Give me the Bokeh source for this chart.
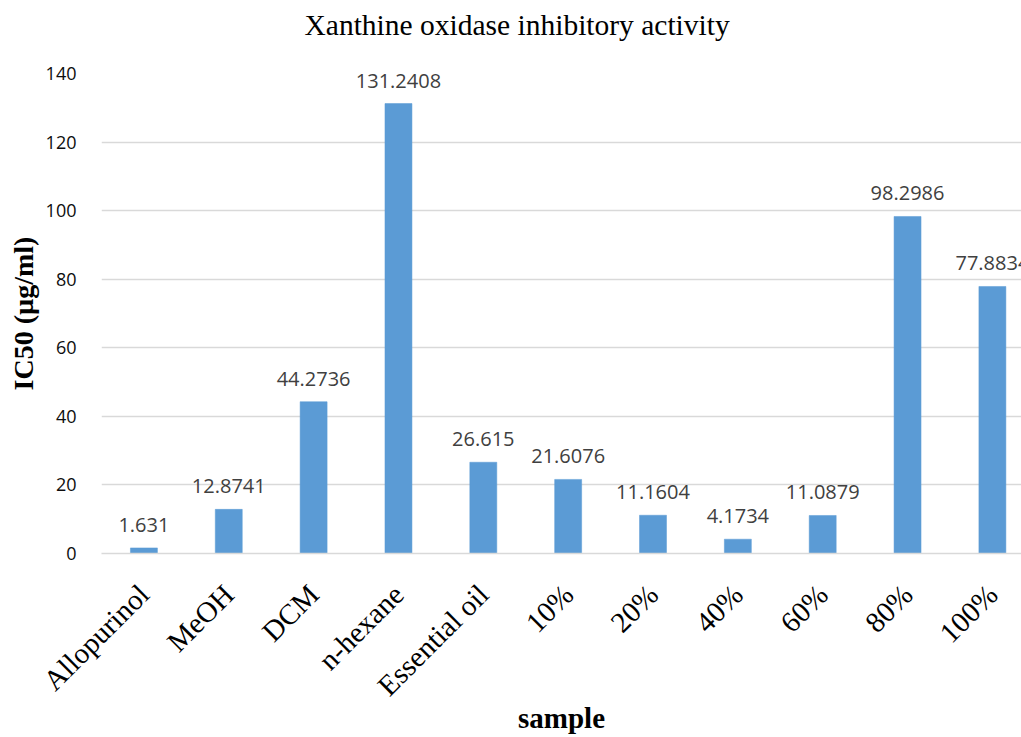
import math

from bokeh.core.properties import value
from bokeh.embed import file_html
from bokeh.models import ColumnDataSource, FixedTicker, LabelSet, Range1d, Title
from bokeh.plotting import figure
from bokeh.resources import INLINE

# Samples and their IC50 values (µg/ml)
samples = ["Allopurinol", "MeOH", "DCM", "n-hexane", "Essential oil",
           "10%", "20%", "40%", "60%", "80%", "100%"]
ic50 = [1.631, 12.8741, 44.2736, 131.2408, 26.615, 21.6076,
        11.1604, 4.1734, 11.0879, 98.2986, 77.8834]
y_ticks = [0, 20, 40, 60, 80, 100, 120, 140]

positions = list(range(len(samples)))
source = ColumnDataSource(data=dict(
    x=positions,
    ic50=ic50,
    label=[str(v) for v in ic50],
))

SERIF = "Liberation Serif"
SANS = "Open Sans"
GRID = "#d9d9d9"
BAR = "#5b9bd5"

p = figure(
    width=1021, height=737,
    x_range=Range1d(-0.5, 10.343),
    y_range=Range1d(0, 140),
    output_backend="svg",
    toolbar_location=None,
    min_border_left=101, min_border_right=0,
    min_border_top=73, min_border_bottom=184,
)
p.outline_line_color = None
p.background_fill_color = "white"
p.border_fill_color = "white"

p.title = Title(
    text="Xanthine oxidase inhibitory activity",
    align="left", offset=203, standoff=10,
    text_font=SERIF, text_font_size="29.5px", text_font_style="normal",
    text_color="#000000",
)
# blank panel between the title and the plot area
p.add_layout(Title(text=" ", text_font_size="14px", standoff=10), "above")

p.vbar(x="x", top="ic50", width=0.318, source=source,
       fill_color=BAR, line_color=BAR, line_width=0.5)

p.add_layout(LabelSet(
    x="x", y="ic50", text="label", source=source,
    y_offset=16, text_align="center", text_baseline="alphabetic",
    text_font=value(SANS), text_font_size=value("20px"), text_color="#404040",
))

# x axis: category names, rotated
xa = p.xaxis[0]
xa.ticker = FixedTicker(ticks=positions)
xa.major_label_overrides = {i: s for i, s in enumerate(samples)}
xa.major_label_orientation = math.pi / 4
xa.major_label_text_font = SERIF
xa.major_label_text_font_size = "29px"
xa.major_label_text_color = "#000000"
xa.major_label_standoff = 30
xa.axis_line_color = GRID
xa.axis_line_width = 1.5
xa.major_tick_line_color = None
xa.minor_tick_line_color = None
xa.axis_label = "sample"
xa.axis_label_text_font = SERIF
xa.axis_label_text_font_size = "29px"
xa.axis_label_text_font_style = "bold"
xa.axis_label_text_color = "#000000"
xa.axis_label_standoff = -14

# y axis
ya = p.yaxis[0]
ya.ticker = FixedTicker(ticks=y_ticks)
ya.axis_line_color = None
ya.major_tick_line_color = None
ya.minor_tick_line_color = None
ya.major_label_text_font = SANS
ya.major_label_text_font_size = "18px"
ya.major_label_text_color = "#0d0d0d"
ya.major_label_standoff = 19
ya.axis_label = "IC50 (µg/ml)"
ya.axis_label_text_font = SERIF
ya.axis_label_text_font_size = "28px"
ya.axis_label_text_font_style = "bold"
ya.axis_label_text_color = "#000000"
ya.axis_label_standoff = 4

p.xgrid.visible = False
p.ygrid.grid_line_color = GRID
p.ygrid.grid_line_width = 1.5

open("out.html", "w").write(file_html(p, INLINE))
